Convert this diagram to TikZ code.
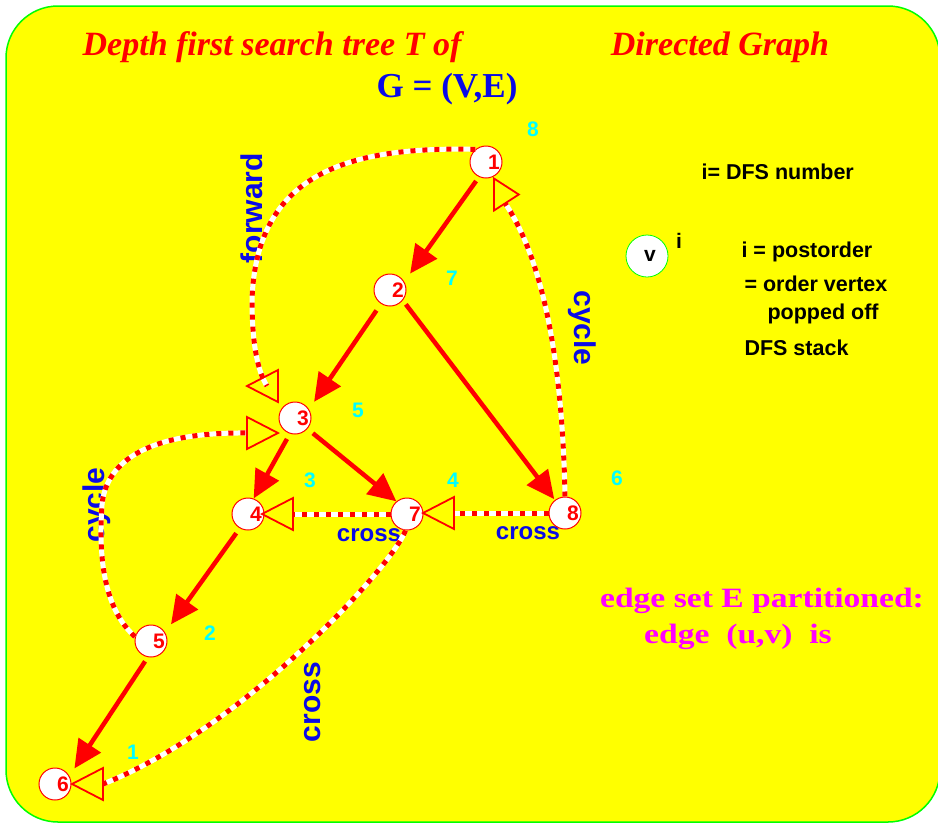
\documentclass[tikz,border=0pt]{standalone}
\usepackage{fontspec}
\setmainfont{Liberation Serif}
\setsansfont{Liberation Sans}
\usetikzlibrary{arrows.meta}
\definecolor{bgyellow}{RGB}{255,255,0}
\definecolor{frgreen}{RGB}{0,255,0}
\definecolor{lblblue}{RGB}{10,10,230}
\definecolor{numcyan}{RGB}{0,255,255}
\definecolor{ttlmag}{RGB}{255,0,255}

\begin{document}
\begin{tikzpicture}[x=1pt, y=-1pt,
    vtx/.style={circle, draw=red, fill=white, line width=1pt, minimum size=32pt, inner sep=0pt,
      text=red, font=\sffamily\bfseries\fontsize{21}{21}\selectfont},
    post/.style={text=numcyan, font=\sffamily\bfseries\fontsize{21}{21}\selectfont},
    kind/.style={text=lblblue, font=\sffamily\bfseries\fontsize{24}{24}\selectfont},
    kindup/.style={text=lblblue, font=\sffamily\bfseries\fontsize{30}{30}\selectfont},
    note/.style={anchor=west, font=\sffamily\bfseries\fontsize{21.5}{21.5}\selectfont},
    tree/.style={draw=red, line width=4.5pt, -{Triangle[length=28pt, width=26pt]}},
    nontree/.style={draw=white, line width=5pt,
      postaction={draw=red, line width=5pt, dash pattern=on 5pt off 7pt}},
    openhead/.pic={\draw[red, line width=1.8pt] (0,-16) -- (31,0) -- (0,16) -- cycle;}]
    \useasboundingbox (0,0) rectangle (938,823);
    \draw[frgreen, fill=bgyellow, line width=1.5pt, rounded corners=52pt] (6,6) rectangle (940,822);

    \node[text=red, font=\bfseries\itshape\fontsize{34}{34}\selectfont] (ttl) at (272,47) {Depth first search tree T of};
    \node[text=red, font=\bfseries\itshape\fontsize{34}{34}\selectfont] (ttlb) at (720,47) {Directed Graph};
    \node[text=lblblue, font=\bfseries\fontsize{35}{35}\selectfont] (gve) at (447,89) {G = (V,E)};

    \node[note] (dfsn) at (698,172) {i= DFS number};
    \node[circle, draw=frgreen, fill=white, line width=0.8pt, minimum size=42pt, inner sep=0pt,
      font=\sffamily\bfseries\fontsize{21}{21}\selectfont] (leg) at (647,256) {\hspace*{6pt}v};
    \node[font=\sffamily\bfseries\fontsize{21}{21}\selectfont] (legi) at (679,241) {i};
    \node[note] (po1) at (738,252) {i = postorder};
    \node[note] (po2) at (741,284) {= order vertex};
    \node[note] (po3) at (764,314) {popped off};
    \node[note] (po4) at (741,348) {DFS stack};

    \node[text=ttlmag, font=\bfseries\fontsize{28}{28}\selectfont] (part1) at (762,601) {\scalebox{1.2}[1]{edge set E partitioned:}};
    \node[text=ttlmag, font=\bfseries\fontsize{28}{28}\selectfont] (part2) at (738,637) {\scalebox{1.2}[1]{edge\ \ (u,v)\ \ is}};

    \node[kindup, rotate=90] (lfwd) at (252,208) {forward};
    \node[kindup, rotate=-90] (lcyca) at (582,328) {cycle};
    \node[kindup, rotate=90] (lcycb) at (97,505) {cycle};
    \node[kind] (lcra) at (369,535) {cross};
    \node[kind] (lcrb) at (528,533) {cross};
    \node[kindup, rotate=90] (lcrc) at (313,702) {cross};

    \node[post] (p1) at (533,129) {8};
    \node[post] (p2) at (452,278) {7};
    \node[post] (p3) at (358,410) {5};
    \node[post] (p4) at (310,480) {3};
    \node[post] (p7) at (453,480) {4};
    \node[post] (p8) at (617,478) {6};
    \node[post] (p5) at (210,633) {2};
    \node[post] (p6) at (133,752) {1};

    \node[vtx] (n1) at (486,162) {\hspace*{16pt}1};
    \node[vtx] (n2) at (390,290) {\hspace*{16pt}2};
    \node[vtx] (n3) at (295,418) {\hspace*{16pt}3};
    \node[vtx] (n4) at (248,514) {\hspace*{16pt}4};
    \node[vtx] (n7) at (407,514) {\hspace*{16pt}7};
    \node[vtx] (n8) at (565,513) {\hspace*{16pt}8};
    \node[vtx] (n5) at (151,641) {\hspace*{16pt}5};
    \node[vtx] (n6) at (55,784) {\hspace*{16pt}6};

    \draw[tree, shorten <=5pt, shorten >=10pt] (n1.245) -- (n2.30);
    \draw[tree, shorten <=8pt, shorten >=9pt] (n2.237) -- (n3.32);
    \draw[tree, shorten <=5pt, shorten >=1pt] (n2.321) -- (n8.128);
    \draw[tree, shorten <=6pt] (n3.252) -- (n4.70);
    \draw[tree, shorten <=7pt] (n3.319) -- (n7.130);
    \draw[tree, shorten <=6pt, shorten >=10pt] (n4.240) -- (n5.31);
    \draw[tree, shorten <=5pt, shorten >=9pt] (n5.259) -- (n6.29);

    \coordinate (f3) at (267,386);
    \draw[nontree] (n1.130) .. controls (340,146) and (256,178) .. (252,300)
      .. controls (252,345) and (258,372) .. (f3);
    \pic[xscale=-1] at (278,386) {openhead};

    \coordinate (c1) at (505,203);
    \draw[nontree] (n8.north) .. controls (563,390) and (550,270) .. (c1);
    \pic[xscale=0.8] at (494,194.5) {openhead};

    \coordinate (c3) at (247,433);
    \draw[nontree] (n5.165) .. controls (105,610) and (98,560) .. (102,505)
      .. controls (106,460) and (150,432) .. (c3);
    \pic at (c3) {openhead};

    \coordinate (x4) at (293,514);
    \draw[nontree] (n7.west) -- (x4);
    \pic[xscale=-1] at (x4) {openhead};

    \coordinate (x7) at (454,513);
    \draw[nontree] (n8.west) -- (x7);
    \pic[xscale=-1] at (x7) {openhead};

    \coordinate (x6) at (103,784);
    \draw[nontree] (n7.265) .. controls (390,570) and (240,730) .. (x6);
    \pic[xscale=-1] at (x6) {openhead};
\end{tikzpicture}
\end{document}
